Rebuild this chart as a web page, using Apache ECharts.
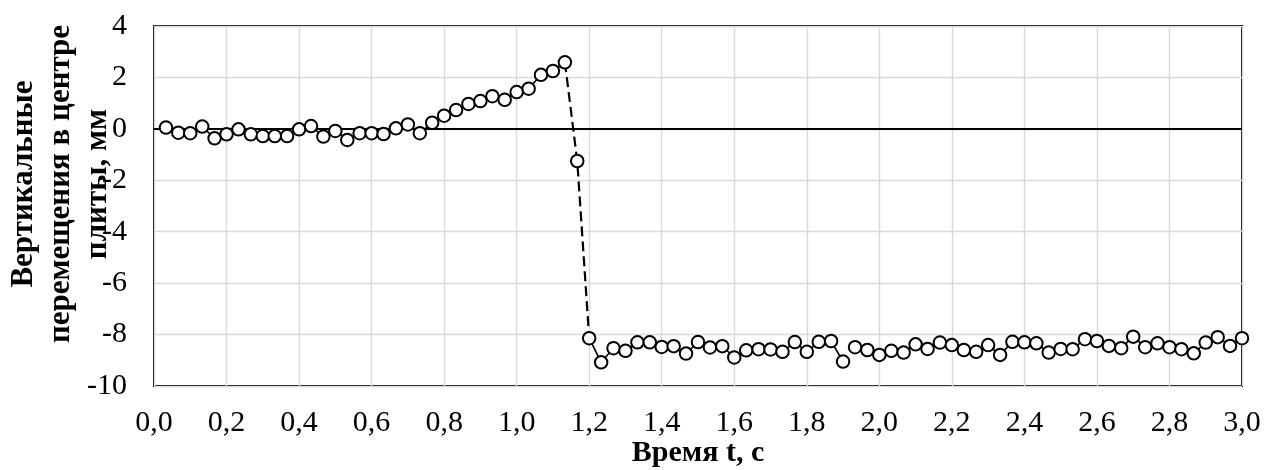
<!DOCTYPE html>
<html>
<head>
<meta charset="utf-8">
<script src="https://cdn.jsdelivr.net/npm/echarts@6/dist/echarts.min.js"></script>
<style>
html,body{margin:0;padding:0;background:#fff;}
#chart{width:1264px;height:470px;}
</style>
</head>
<body>
<div id="chart"></div>
<script>
// time, s
var time = [0.033,0.067,0.100,0.133,0.167,0.200,0.233,0.267,0.300,0.333,
            0.367,0.400,0.433,0.467,0.500,0.533,0.567,0.600,0.633,0.667,
            0.700,0.733,0.767,0.800,0.833,0.867,0.900,0.933,0.967,1.000,
            1.033,1.067,1.100,1.133,1.167,1.200,1.233,1.267,1.300,1.333,
            1.367,1.400,1.433,1.467,1.500,1.533,1.567,1.600,1.633,1.667,
            1.700,1.733,1.767,1.800,1.833,1.867,1.900,1.933,1.967,2.000,
            2.033,2.067,2.100,2.133,2.167,2.200,2.233,2.267,2.300,2.333,
            2.367,2.400,2.433,2.467,2.500,2.533,2.567,2.600,2.633,2.667,
            2.700,2.733,2.767,2.800,2.833,2.867,2.900,2.933,2.967,3.000];
// vertical displacement at plate centre, mm
var displacement = [0.05,-0.15,-0.17,0.09,-0.37,-0.21,-0.02,-0.21,-0.28,-0.28,
            -0.28,-0.02,0.11,-0.30,-0.08,-0.43,-0.17,-0.17,-0.20,0.02,
            0.17,-0.17,0.24,0.51,0.73,0.97,1.08,1.27,1.13,1.43,
            1.56,2.10,2.25,2.59,-1.25,-8.14,-9.08,-8.53,-8.63,-8.30,
            -8.30,-8.48,-8.45,-8.74,-8.29,-8.50,-8.45,-8.89,-8.61,-8.57,
            -8.58,-8.67,-8.29,-8.67,-8.28,-8.25,-9.05,-8.49,-8.60,-8.79,
            -8.63,-8.70,-8.38,-8.56,-8.31,-8.41,-8.60,-8.67,-8.41,-8.79,
            -8.28,-8.30,-8.34,-8.70,-8.56,-8.57,-8.18,-8.25,-8.44,-8.53,
            -8.08,-8.49,-8.34,-8.49,-8.57,-8.73,-8.31,-8.10,-8.44,-8.14];
// index ranges of connected pieces
var solidPieces = [[0,33],[35,56],[57,89]];
var dashedPieces = [[33,35]];
var xTicks = [0,0.2,0.4,0.6,0.8,1.0,1.2,1.4,1.6,1.8,2.0,2.2,2.4,2.6,2.8,3.0];
var yTicks = [-10,-8,-6,-4,-2,0,2,4];
var xTitle = 'Время t, с';
var yTitleLines = ['Вертикальные','перемещения в центре','плиты, мм'];

var FONT = '"Liberation Serif","Times New Roman",serif';
function piece(r){
  var out=[];
  for(var i=r[0];i<=r[1];i++) out.push([time[i],displacement[i]]);
  return out;
}
var series = [];
series.push({
  type:'line', data:[], z:1, silent:true,
  markLine:{silent:true, symbol:'none', label:{show:false},
    lineStyle:{color:'#000', width:1.8, type:'solid'},
    data:[{yAxis:0}]}
});
solidPieces.forEach(function(r){
  series.push({type:'line', data:piece(r), showSymbol:false, z:2, silent:true,
    lineStyle:{color:'#000', width:1.6}});
});
dashedPieces.forEach(function(r){
  series.push({type:'line', data:piece(r), showSymbol:false, z:2, silent:true,
    lineStyle:{color:'#000', width:2.2, type:[10,5]}});
});
series.push({type:'scatter', z:5, silent:true,
  data: time.map(function(t,i){return [t,displacement[i]];}),
  symbol:'circle', symbolSize:12.5,
  itemStyle:{color:'#fff', borderColor:'#000', borderWidth:2, opacity:1}
});

var chart = echarts.init(document.getElementById('chart'), null, {renderer:'canvas'});
chart.setOption({
  animation:false,
  backgroundColor:'#fff',
  grid:{left:154, right:22, top:26, bottom:84, show:true, borderColor:'#000', borderWidth:2,
    backgroundColor:'transparent', containLabel:false, outerBoundsMode:'none'},
  xAxis:{type:'value', min:0, max:3.0, interval:0.2,
    name:xTitle, nameLocation:'middle', nameGap:52, nameMoveOverlap:false,
    nameTextStyle:{fontFamily:FONT, fontSize:30, fontWeight:'bold', color:'#000'},
    axisLine:{show:false}, axisTick:{show:false},
    axisLabel:{fontFamily:FONT, fontSize:30, color:'#000', margin:22,
      formatter:function(v){return v.toFixed(1).replace('.',',');}},
    splitLine:{show:true, lineStyle:{color:'#d9d9d9', width:1.4}}
  },
  yAxis:{type:'value', min:-10, max:4, interval:2,
    axisLine:{show:false}, axisTick:{show:false},
    axisLabel:{fontFamily:FONT, fontSize:30, color:'#000', margin:27,
      formatter:function(v){return String(v);}},
    splitLine:{show:true, lineStyle:{color:'#d9d9d9', width:1.4}}
  },
  graphic:[{
    type:'text', x:61, y:184, rotation:Math.PI/2, z:10, silent:true,
    style:{text:yTitleLines.join('\n'), fill:'#000',
      font:'bold 31px '+FONT, fontFamily:FONT, fontSize:31, fontWeight:'bold',
      textAlign:'center', textVerticalAlign:'middle', align:'center', verticalAlign:'middle', lineHeight:37}
  }],
  series:series
});
</script>
</body>
</html>
